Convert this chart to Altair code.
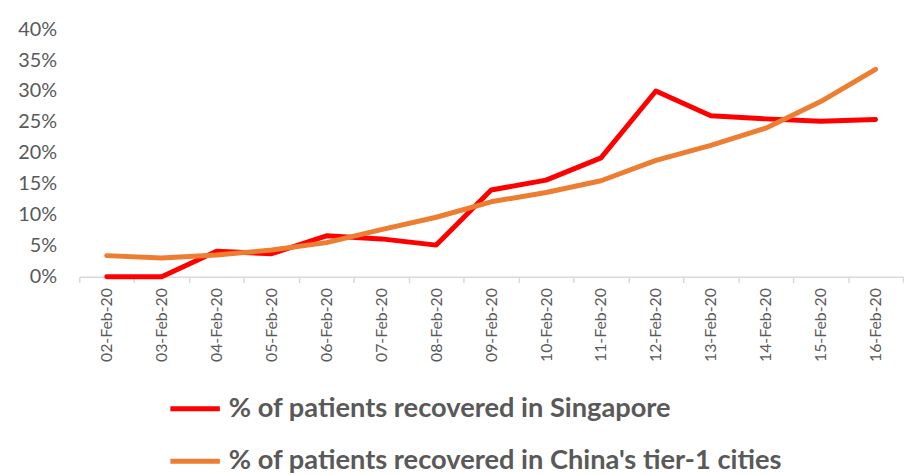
import altair as alt
import pandas as pd

dates = ["02-Feb-20", "03-Feb-20", "04-Feb-20", "05-Feb-20", "06-Feb-20",
         "07-Feb-20", "08-Feb-20", "09-Feb-20", "10-Feb-20", "11-Feb-20",
         "12-Feb-20", "13-Feb-20", "14-Feb-20", "15-Feb-20", "16-Feb-20"]
singapore = [0.0, 0.0, 4.1, 3.7, 6.6, 6.1, 5.1, 14.0, 15.6, 19.2,
             30.0, 26.0, 25.5, 25.1, 25.4]
china = [3.4, 3.0, 3.5, 4.3, 5.5, 7.6, 9.6, 12.1, 13.6, 15.5,
         18.8, 21.2, 24.0, 28.3, 33.5]
series_names = ["% of patients recovered in Singapore",
                "% of patients recovered in China's tier-1 cities"]
series_colors = ["#FF0000", "#ED7D31"]
y_ticks = [0, 0.05, 0.10, 0.15, 0.20, 0.25, 0.30, 0.35, 0.40]

rows = []
for d, v in zip(dates, singapore):
    rows.append({"date": d, "value": v / 100, "series": series_names[0]})
for d, v in zip(dates, china):
    rows.append({"date": d, "value": v / 100, "series": series_names[1]})
df = pd.DataFrame(rows)

FONT = "Lato"
GRAY = "#595959"

chart = alt.Chart(df).mark_line(strokeWidth=5, strokeJoin="round", strokeCap="round").encode(
    x=alt.X("date:N", sort=dates, bandPosition=0.5,
            scale=alt.Scale(type="band", paddingInner=0, paddingOuter=0),
            axis=alt.Axis(title=None, labelAngle=-90, labelFontSize=16, labelColor=GRAY,
                          labelFont=FONT, domainColor="#D9D9D9", domainWidth=1.5,
                          tickColor="#D9D9D9", tickWidth=1.5, tickSize=6, tickBand="extent",
                          labelPadding=5, grid=False)),
    y=alt.Y("value:Q", scale=alt.Scale(domain=[0, 0.4], nice=False),
            axis=alt.Axis(title=None, format=".0%", values=y_ticks, labelFontSize=20,
                          labelColor=GRAY, labelFont=FONT, domain=False, ticks=False,
                          grid=False, labelPadding=23)),
    color=alt.Color("series:N",
                    scale=alt.Scale(domain=series_names, range=series_colors),
                    legend=alt.Legend(title=None, orient="none", legendX=89.5, legendY=356,
                                      direction="vertical", symbolType="stroke",
                                      symbolSize=2500, symbolStrokeWidth=5,
                                      labelFontSize=27.5, labelFontWeight="bold",
                                      labelColor=GRAY, labelFont=FONT, labelLimit=900,
                                      rowPadding=12, labelOffset=6.5)),
    order=alt.Order("date_idx:Q"),
).transform_calculate(
    date_idx="indexof(" + str(dates) + ", datum.date)"
).properties(
    width=832, height=250,
    padding={"left": 9, "top": 9, "right": 0, "bottom": 0},
).configure_view(stroke=None)

chart.save("out.html", embed_options={"renderer": "svg", "actions": False})
